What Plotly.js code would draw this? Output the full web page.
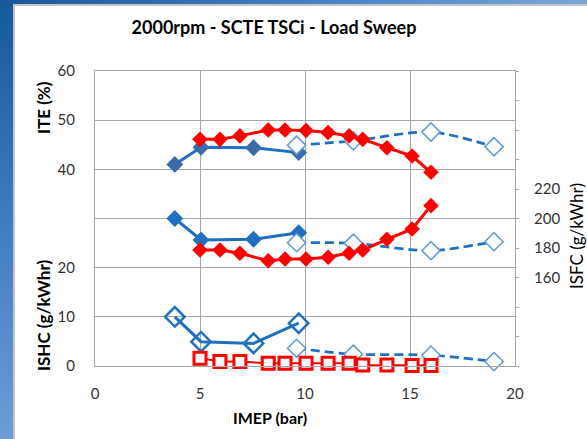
<!DOCTYPE html>
<html>
<head>
<meta charset="utf-8">
<script src="https://cdn.plot.ly/plotly-3.0.1.min.js"></script>
<style>
  html, body { margin: 0; padding: 0; width: 587px; height: 439px; overflow: hidden; background: #fff; }
  #leftbar { position: absolute; left: 0; top: 0; width: 13px; height: 439px;
    background: linear-gradient(to bottom, #17589a, #3f7cc0 50%, #6d9dd4); }
  #leftedge { position: absolute; left: 13px; top: 5px; width: 2px; height: 434px; background: #c4c4c8; }
  #topbar { position: absolute; left: 0; top: 0; width: 587px; height: 4px;
    background: linear-gradient(to right, #17589a, #4a86c8 60%, #7aa6d8); }
  #topedge { position: absolute; left: 13px; top: 4px; width: 574px; height: 2px; background: #c4c4c8; }
  #chart { position: absolute; left: 0; top: 0; width: 587px; height: 439px; }
</style>
</head>
<body>
<div id="leftbar"></div>
<div id="topbar"></div>
<div id="leftedge"></div>
<div id="topedge"></div>
<div id="chart"></div>
<script>
// IMEP (bar) positions
const blueX = [3.8, 5.05, 7.55, 9.7];
const redX = [5.0, 5.95, 6.9, 8.25, 9.05, 10.05, 11.1, 12.1, 12.75, 13.9, 15.1, 16.0];
const dashX = [9.6, 12.3, 16.0, 19.0];

// ITE (%)
const iteBlue = [41.0, 44.5, 44.4, 43.4];
const iteRed = [46.1, 46.1, 46.8, 48.0, 48.0, 47.9, 47.5, 46.8, 46.1, 44.4, 42.7, 39.4];
const iteDash = [44.9, 45.8, 47.6, 44.6];

// ISFC (g/kWhr) - right axis
const isfcBlue = [200, 185.4, 185.9, 190.4];
const isfcRed = [178.6, 178.6, 176.4, 171.4, 172.5, 172.5, 173.7, 176.4, 178.6, 185.9, 192.9, 208.7];
const isfcDash = [183.6, 183.2, 178.2, 184.3];

// ISHC (g/kWhr)
const ishcBlue = [10.0, 4.95, 4.6, 8.7];
const ishcRed = [1.6, 0.9, 0.9, 0.55, 0.55, 0.55, 0.55, 0.55, 0.2, 0.2, 0.1, 0.1];
const ishcDash = [3.6, 2.4, 2.2, 0.9];

// Tick labels
const xTickVals = [0, 5, 10, 15, 20];
const leftTickVals = [0, 10, 20, 30, 40, 50, 60];
const leftTickText = ['0', '10', '20', '', '40', '50', '60'];
const rightTickVals = [100, 120, 140, 160, 180, 200, 220, 240, 260, 280, 300];
const rightTickText = ['', '', '', '160', '180', '200', '220', '', '', '', ''];

const BLUE = '#1f70c1';
const BLUE_DARK = '#3a6ca8';
const LBLUE = '#5b9bd5';
const RED = '#ff0000';
const DASH = '9px,5px';

const traces = [
  // ITE
  { x: blueX, y: iteBlue, mode: 'lines+markers', line: { color: BLUE, width: 3 },
    marker: { symbol: 'diamond', size: 13, color: BLUE_DARK } },
  { x: dashX, y: iteDash, mode: 'lines+markers', line: { color: BLUE, width: 2.75, dash: DASH, shape: 'spline', smoothing: 0.8 },
    marker: { symbol: 'diamond', size: 14, color: 'white', line: { color: LBLUE, width: 1.5 } } },
  { x: redX, y: iteRed, mode: 'lines+markers', line: { color: RED, width: 3 },
    marker: { symbol: 'diamond', size: 12, color: RED } },
  // ISFC (right axis)
  { x: blueX, y: isfcBlue, yaxis: 'y2', mode: 'lines+markers', line: { color: BLUE, width: 3 },
    marker: { symbol: 'diamond', size: 13, color: BLUE } },
  { x: dashX, y: isfcDash, yaxis: 'y2', mode: 'lines+markers', line: { color: BLUE, width: 2.75, dash: DASH, shape: 'spline', smoothing: 0.8 },
    marker: { symbol: 'diamond', size: 14, color: 'white', line: { color: LBLUE, width: 1.5 } } },
  { x: redX, y: isfcRed, yaxis: 'y2', mode: 'lines+markers', line: { color: RED, width: 3 },
    marker: { symbol: 'diamond', size: 12, color: RED } },
  // ISHC
  { x: dashX, y: ishcDash, mode: 'lines+markers', cliponaxis: false, line: { color: BLUE, width: 2.75, dash: DASH, shape: 'spline', smoothing: 0.8 },
    marker: { symbol: 'diamond', size: 14, color: 'white', line: { color: LBLUE, width: 1.5 } } },
  { x: blueX, y: ishcBlue, mode: 'lines+markers', line: { color: BLUE, width: 3 },
    marker: { symbol: 'diamond-open', size: 15, color: BLUE, line: { color: BLUE, width: 2.5 } } },
  { x: redX, y: ishcRed, mode: 'lines+markers', cliponaxis: false, line: { color: RED, width: 2 },
    marker: { symbol: 'square', size: 12, color: 'white', line: { color: RED, width: 3 } } }
];

const tickFont = { family: 'Lato, "Open Sans", sans-serif', size: 15, color: '#333333' };
const titleFont = { family: 'Lato, "Open Sans", sans-serif', size: 17, color: '#000000', weight: 'bold' };

const layout = {
  width: 587, height: 439,
  margin: { l: 95, r: 72, t: 71, b: 73 },
  paper_bgcolor: 'rgba(0,0,0,0)',
  plot_bgcolor: 'rgba(0,0,0,0)',
  showlegend: false,
  title: { text: '2000rpm - SCTE TSCi - Load Sweep', xref: 'container', yref: 'container',
    x: 274 / 587, xanchor: 'center', y: 1 - 28 / 439, yanchor: 'middle',
    font: { family: 'Lato, "Open Sans", sans-serif', size: 18, color: '#000', weight: 'bold' } },
  xaxis: { range: [0, 20], tickvals: xTickVals, showgrid: true, gridcolor: '#a6a6a6', gridwidth: 1,
    showline: true, linecolor: '#a6a6a6', linewidth: 1, mirror: true, zeroline: false, ticks: '',
    ticklabelstandoff: 14, tickfont: tickFont },
  yaxis: { range: [0, 60], tickvals: leftTickVals, ticktext: leftTickText, showgrid: true, gridcolor: '#a6a6a6', gridwidth: 1,
    showline: true, linecolor: '#a6a6a6', linewidth: 1, zeroline: false, ticks: '',
    ticklabelstandoff: 16, tickfont: tickFont },
  yaxis2: { range: [100, 300], overlaying: 'y', side: 'right', tickvals: rightTickVals, ticktext: rightTickText,
    showgrid: false, showline: true, linecolor: '#a6a6a6', linewidth: 1, zeroline: false,
    ticks: 'outside', ticklen: 3, tickcolor: '#a6a6a6', ticklabelstandoff: 12, tickfont: tickFont },
  annotations: [
    { text: 'ITE (%)', xref: 'paper', yref: 'paper', x: (43 - 95) / 420, y: (366 - 108) / 295,
      textangle: -90, showarrow: false, xanchor: 'center', yanchor: 'middle', font: titleFont },
    { text: 'ISHC (g/kWhr)', xref: 'paper', yref: 'paper', x: (43 - 95) / 420, y: (366 - 316) / 295,
      textangle: -90, showarrow: false, xanchor: 'center', yanchor: 'middle', font: titleFont },
    { text: 'ISFC (g/kWhr)', xref: 'paper', yref: 'paper', x: (576 - 95) / 420, y: (366 - 236) / 295,
      textangle: -90, showarrow: false, xanchor: 'center', yanchor: 'middle',
      font: { family: 'Lato, "Open Sans", sans-serif', size: 17, color: '#000' } },
    { text: 'IMEP (bar)', xref: 'paper', yref: 'paper', x: (270 - 95) / 420, y: (366 - 418) / 295,
      showarrow: false, xanchor: 'center', yanchor: 'middle', font: { family: 'Lato, "Open Sans", sans-serif', size: 16, color: '#000', weight: 'bold' } }
  ]
};

Plotly.newPlot('chart', traces, layout, { displayModeBar: false, staticPlot: true });
</script>
</body>
</html>
